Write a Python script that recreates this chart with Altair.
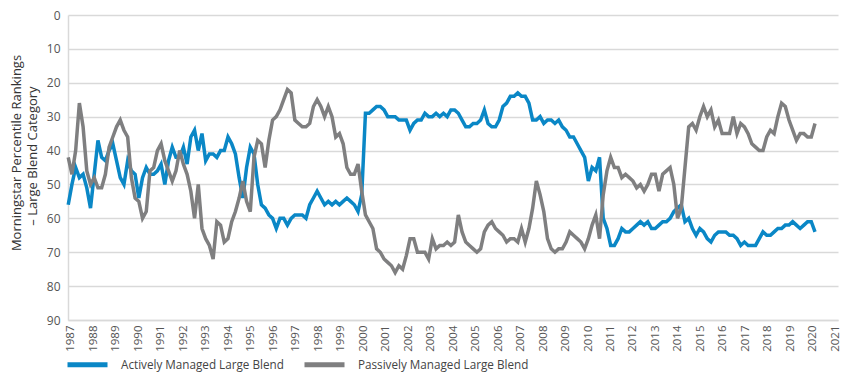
import altair as alt
import pandas as pd

# Morningstar percentile rankings, read roughly every two months
active = [56, 50, 45, 48, 47, 51, 57, 47, 37, 42,
          43, 40, 38, 43, 48, 50, 43, 46, 47, 54,
          48, 45, 47, 47, 46, 44, 50, 43, 39, 42,
          42, 39, 44, 36, 34, 40, 35, 43, 41, 41,
          42, 40, 40, 36, 38, 41, 48, 54, 45, 39,
          41, 50, 56, 57, 59, 60, 63, 60, 60, 62,
          60, 59, 59, 59, 60, 56, 54, 52, 54, 56,
          55, 56, 55, 56, 55, 54, 55, 56, 58, 53,
          29, 29, 28, 27, 27, 28, 30, 30, 30, 31,
          31, 31, 34, 32, 31, 31, 29, 30, 30, 29,
          30, 29, 30, 28, 28, 29, 31, 33, 33, 32,
          32, 31, 28, 32, 33, 33, 31, 27, 26, 24,
          24, 23, 24, 24, 26, 31, 31, 30, 32, 31,
          31, 32, 31, 33, 34, 36, 36, 38, 40, 42,
          49, 45, 46, 42, 60, 63, 68, 68, 66, 63,
          64, 64, 63, 62, 61, 62, 61, 63, 63, 62,
          61, 61, 60, 58, 57, 56, 61, 60, 63, 65,
          63, 64, 66, 67, 65, 64, 64, 64, 65, 65,
          66, 68, 67, 68, 68, 68, 66, 64, 65, 65,
          64, 63, 63, 62, 62, 61, 62, 63, 62, 61,
          61, 64]

passive = [42, 47, 40, 26, 33, 46, 50, 48, 51, 51,
           47, 39, 36, 33, 31, 34, 36, 48, 54, 55,
           60, 58, 46, 45, 40, 38, 43, 46, 49, 46,
           40, 44, 47, 52, 60, 50, 63, 66, 68, 72,
           61, 62, 67, 66, 61, 58, 54, 49, 55, 58,
           42, 37, 38, 45, 37, 31, 30, 28, 25, 22,
           23, 31, 32, 33, 33, 32, 27, 25, 27, 30,
           27, 30, 36, 35, 38, 45, 47, 47, 44, 52,
           59, 61, 63, 69, 70, 72, 73, 74, 76, 74,
           75, 71, 66, 66, 70, 70, 70, 72, 66, 69,
           68, 68, 67, 68, 67, 59, 64, 67, 68, 69,
           70, 69, 64, 62, 61, 63, 64, 65, 67, 66,
           66, 67, 63, 67, 63, 57, 49, 53, 58, 66,
           69, 70, 69, 69, 67, 64, 65, 66, 67, 69,
           66, 62, 59, 66, 53, 46, 42, 45, 45, 48,
           47, 48, 49, 51, 50, 52, 50, 47, 47, 52,
           47, 46, 45, 50, 60, 57, 45, 33, 32, 34,
           30, 27, 30, 28, 33, 31, 35, 35, 35, 30,
           35, 32, 33, 35, 38, 39, 40, 40, 36, 34,
           35, 30, 26, 27, 31, 34, 37, 35, 35, 36,
           36, 32]

series_names = ["Actively Managed Large Blend", "Passively Managed Large Blend"]
series_colors = ["#0a87c6", "#7f7f80"]
year_ticks = list(range(1987, 2022))
rank_ticks = list(range(0, 91, 10))
y_title = ["Morningstar Percentile Rankings", "\u2013 Large Blend Category"]

START = 1986.88   # decimal year of first observation
STEP = 0.16526    # about two months between readings
n = len(active)
years = [round(START + STEP * i, 4) for i in range(n)]

df = pd.DataFrame({
    "year": years + years,
    "rank": active + passive,
    "series": [series_names[0]] * n + [series_names[1]] * n,
})

GRID = "#d9d9d9"
FONT = "Open Sans"

lines = alt.Chart(df).mark_line(strokeWidth=3.5).encode(
    x=alt.X("year:Q",
            scale=alt.Scale(domain=[1986.87, 2021.12], nice=False, zero=False),
            axis=alt.Axis(values=year_ticks, format="d", labelAngle=270,
                          labelOverlap=False, labelFlush=False, grid=False,
                          ticks=False, domain=True, domainColor=GRID, domainWidth=1.5,
                          labelPadding=5, title=None, labelFont=FONT,
                          labelFontSize=11.5, labelColor="#555555")),
    y=alt.Y("rank:Q",
            scale=alt.Scale(domain=[0, 90], reverse=True, nice=False, zero=False),
            axis=alt.Axis(values=rank_ticks, grid=True, gridColor=GRID, gridWidth=1.5,
                          ticks=False, domain=True, domainColor=GRID, domainWidth=1.5,
                          labelPadding=8, labelFont=FONT, labelFontSize=12,
                          labelColor="#555555", title=None)),
    color=alt.Color("series:N",
                    scale=alt.Scale(domain=series_names, range=series_colors),
                    legend=alt.Legend(orient="none", legendX=-3, legendY=327,
                                      direction="horizontal", title=None,
                                      symbolType="stroke", symbolStrokeWidth=5,
                                      symbolSize=1600, labelFont=FONT,
                                      labelFontSize=11.7, labelColor="#444444",
                                      labelLimit=0, columnPadding=10,
                                      labelOffset=11, padding=0)),
)

title1 = alt.Chart(pd.DataFrame({"t": [y_title[0]]})).mark_text(
    angle=270, align="center", baseline="middle", font=FONT, fontSize=13,
    color="#333333"
).encode(text="t:N", x=alt.value(-51), y=alt.value(138))

title2 = alt.Chart(pd.DataFrame({"t": [y_title[1]]})).mark_text(
    angle=270, align="center", baseline="middle", font=FONT, fontSize=13,
    color="#333333"
).encode(text="t:N", x=alt.value(-35), y=alt.value(141))

chart = alt.layer(lines, title1, title2).properties(
    width=770, height=305,
    autosize=alt.AutoSizeParams(type="none"),
    padding={"left": 60, "top": 7, "right": 3, "bottom": 54},
).configure_view(stroke=None)

chart.save("out.html", embed_options={"renderer": "svg", "actions": False})
